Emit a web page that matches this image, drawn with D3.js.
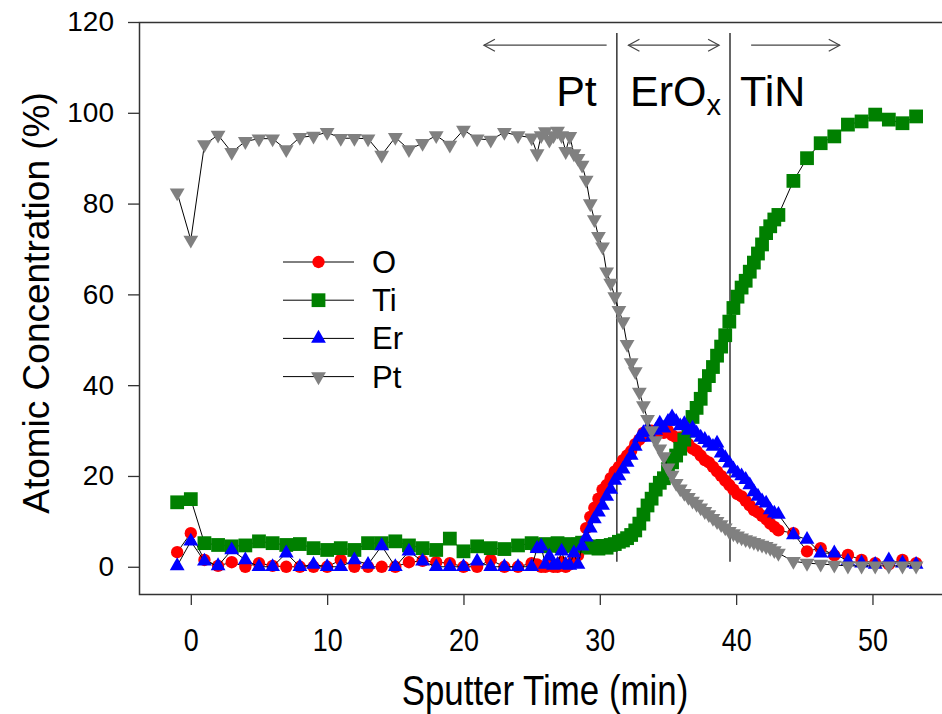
<!DOCTYPE html>
<html>
<head>
<meta charset="utf-8">
<script src="https://cdn.jsdelivr.net/npm/d3@7"></script>
<style>
  body { margin: 0; background: #fff; }
  svg { display: block; font-family: "Liberation Sans", Arial, sans-serif; }
</style>
</head>
<body>
<svg id="chart" width="942" height="714"></svg>
<script>
// sputter time (min) of every depth-profile cycle
const time = [
  -1, 0, 1, 2, 3, 4, 5, 6, 7, 8, 9, 10, 11, 12, 13, 14, 15, 16, 17, 18, 19, 20, 21, 22, 23, 24, 25,
  25.4, 25.7, 26.0, 26.3, 26.6, 26.9, 27.2, 27.5, 27.8, 28.1, 28.4, 28.7,
  29.0, 29.3, 29.6, 29.9, 30.2, 30.5, 30.8, 31.1,
  31.4, 31.7, 32.0, 32.3, 32.6, 32.9, 33.2, 33.5, 33.8, 34.1,
  34.4, 34.7, 35.0, 35.3, 35.6, 35.9, 36.2, 36.5, 36.8, 37.1,
  37.4, 37.7, 38.0, 38.3, 38.6, 38.9, 39.2, 39.5, 39.8, 40.1,
  40.4, 40.7, 41.0, 41.3, 41.6, 41.9, 42.2, 42.5, 42.8, 43.1,
  44.2, 45.2, 46.2, 47.2, 48.2, 49.2, 50.2, 51.2, 52.2, 53.2
]

// atomic concentration (%)
const oxygen = [
  3.2, 7.4, 1.5, 0.2, 1.0, 0, 0.8, 0.2, 0, 0, 0, 0, 1.5, 0, 0, 0, 0, 1.0, 1.3, 1.0, 0.8, 0, 0, 1.5, 0, 0, 0.8,
  0.5, 0, 0, 0.5, 0, 0, 1.0, 0, 0.5, 1.5, 2.5, 5.5,
  8.5, 11, 13, 15, 17, 18, 19.5, 21,
  22, 23.5, 24.5, 25.5, 27, 28, 29.5, 29, 30, 29.5,
  30.5, 29.5, 30, 29, 28.5, 28.5, 27.5, 27, 26, 25.5,
  24.5, 23.5, 23, 22, 21, 20, 19, 18, 17, 16,
  15.5, 14.5, 13.5, 12.5, 12, 11.2, 10.5, 9.5, 8.8, 8.0,
  7.4, 3.4, 4.1, 2.5, 2.6, 1.5, 0.8, 0.5, 1.5, 0.8
]
const titanium = [
  14.2, 14.9, 5.2, 4.8, 4.5, 4.7, 5.6, 5.2, 4.8, 5.0, 4.1, 3.7, 4.1, 3.7, 5.2, 5.2, 5.6, 4.7, 4.1, 3.7, 6.2, 3.4, 4.5, 4.1, 3.9, 4.7, 5.2,
  4.8, 4.5, 5.0, 4.6, 4.8, 5.2, 4.5, 4.8, 5.0, 4.6, 4.9, 5.3,
  4.5, 4.2, 4.5, 4.0, 4.6, 4.2, 4.8, 5.0,
  5.5, 5.8, 6.3, 7.0, 8.0, 9.5, 11.5, 13.5, 15, 17,
  18.5, 19.5, 21.5, 23, 24.5, 26, 28, 30, 33, 35,
  37, 40, 42, 44, 46.5, 48.5, 51, 54, 57, 59.5,
  61.5, 63, 65, 67, 69, 71, 73.5, 75, 76.5, 77.5,
  85, 90, 93.3, 94.8, 97.4, 98.1, 99.6, 98.5, 97.7, 99.2
]
const erbium = [
  0.2, 5.6, 1.2, 0.2, 3.7, 1.5, 0, 0, 3.0, 0, 0.5, 0, 0, 1.5, 0.5, 4.6, 0, 3.4, 1.2, 0, 0, 0, 1.2, 0, 0, 0, 0,
  4.0, 4.5, 0.5, 2.3, 0.3, 0.5, 3.4, 0.5, 0.3, 3.0, 0.5, 4.5,
  6.5, 8.5, 10.5, 12, 13.5, 15.5, 17, 19,
  20, 21.5, 23, 24.5, 26.5, 28.5, 29.5, 30.5, 28.5, 30,
  31.6, 30.5, 32, 33, 32, 31, 31.5, 30, 30.5, 29.4,
  28.5, 28, 27.2, 26.5, 27.2, 25, 24, 22.8, 21.5, 20.6,
  20, 19.2, 18, 16.5, 15.5, 14.5, 14, 12.5, 11.8, 11.5,
  7.0, 6.0, 3.0, 3.0, 1.2, 0.8, 0.5, 1.5, 0.8, 0.5
]
const platinum = [
  82.4, 72, 93, 95.1, 91.3, 93.7, 94.3, 94.3, 91.9, 94.6, 94.9, 95.7, 94.4, 94.4, 94.3, 90.7, 94.6, 91.9, 93.3, 95.0, 92.9, 96.2, 94.3, 94.0, 95.7, 95.0, 94.5,
  91, 95, 95.9, 94, 95, 96, 95, 91.5, 94.8, 91, 90, 88.5,
  85.2, 80, 76.5, 72.8, 70.5, 65, 62.5, 59.5,
  56.5, 54, 49, 45, 43, 38.5, 35.5, 32.5, 30, 27.8,
  26, 24.3, 21.8, 20.2, 18.4, 17.2, 16.2, 15.3, 14.5, 13.8,
  13, 12.2, 11.5, 10.7, 10, 9.3, 8.6, 7.8, 7.3, 6.8,
  6.4, 6.0, 5.7, 5.4, 5.1, 4.8, 4.5, 4.1, 3.6, 3.0,
  1.2, 0.8, 0.6, 0.4, 0.2, 0.2, 0.2, 0.2, 0.2, 0.2
]

const seriesNames = ["O", "Ti", "Er", "Pt"]
const xTicks = [0, 10, 20, 30, 40, 50]
const yTicks = [0, 20, 40, 60, 80, 100, 120]

// layer boundaries (min)
const boundaries = [31.25, 39.55]

//
// Setup
//
const svg = d3.select("#chart")
const x = d3.scaleLinear().domain([-3.8, 55.1]).range([139, 942])
const y = d3.scaleLinear().domain([-6, 120]).range([594, 22])

const colors = {O: "#ff0000", Ti: "#008000", Er: "#0000ff", Pt: "#808080"}
const symbols = {
  O: d3.symbol().type(d3.symbolCircle).size(120),
  Ti: d3.symbol().type(d3.symbolSquare).size(190),
  Er: d3.symbol().type(d3.symbolTriangle).size(95),
  Pt: d3.symbol().type(d3.symbolTriangle).size(95)
}
const rotation = {O: 0, Ti: 0, Er: 0, Pt: 180}
const valuesOf = {O: oxygen, Ti: titanium, Er: erbium, Pt: platinum}

// axes
const yAxis = svg.append("g")
  .attr("transform", "translate(139,0)")
  .call(d3.axisLeft(y).tickValues(yTicks).tickSize(11).tickPadding(14))
const xAxis = svg.append("g")
  .attr("transform", "translate(0,594)")
  .call(d3.axisBottom(x).tickValues(xTicks).tickSize(11).tickPadding(23))

;[xAxis, yAxis].forEach(function(g) {
  g.select(".domain").remove()
  g.selectAll(".tick line").attr("stroke", "#333").attr("stroke-width", 1.3)
  g.selectAll(".tick text").attr("fill", "#000")
    .attr("font-family", "Liberation Sans, Arial, sans-serif")
})
yAxis.selectAll(".tick text").attr("font-size", 28)
// x labels are drawn condensed in the original
xAxis.selectAll(".tick text").attr("font-size", 32).attr("transform", "scale(0.84,1)")

// frame (right side is cut off in the original)
svg.append("path")
  .attr("d", "M942,22.5H139.5V594.5H942")
  .attr("fill", "none")
  .attr("stroke", "#333")
  .attr("stroke-width", 1.5)

// axis titles
svg.append("text")
  .attr("transform", "translate(545,705) scale(0.83,1)")
  .attr("text-anchor", "middle")
  .attr("font-size", 42)
  .text("Sputter Time (min)")
svg.append("text")
  .attr("transform", "translate(49,303) rotate(-90)")
  .attr("text-anchor", "middle")
  .attr("font-size", 37)
  .text("Atomic Concentration (%)")

// layer boundaries
svg.selectAll(".boundary")
  .data(boundaries)
  .enter()
  .append("line")
  .attr("class", "boundary")
  .attr("x1", d => x(d)).attr("x2", d => x(d))
  .attr("y1", y(117.6)).attr("y2", y(1.1))
  .attr("stroke", "#333")
  .attr("stroke-width", 1.5)

// arrows above each layer
const arrows = [
  {from: 30.5, to: 21.5, heads: [21.5]},
  {from: 32.1, to: 38.75, heads: [32.1, 38.75]},
  {from: 41.1, to: 47.6, heads: [47.6]}
]
const arrowY = y(114.9)
arrows.forEach(function(a) {
  svg.append("line")
    .attr("x1", x(a.from)).attr("x2", x(a.to))
    .attr("y1", arrowY).attr("y2", arrowY)
    .attr("stroke", "#444").attr("stroke-width", 1.2)
  a.heads.forEach(function(h) {
    const dir = (h === Math.min(a.from, a.to)) ? 1 : -1
    const hx = x(h)
    svg.append("path")
      .attr("d", `M${hx + dir * 11},${arrowY - 6}L${hx},${arrowY}L${hx + dir * 11},${arrowY + 6}`)
      .attr("fill", "none").attr("stroke", "#444").attr("stroke-width", 1.2)
  })
})

// layer labels
const labelY = 106
svg.append("text").attr("x", x(26.8)).attr("y", labelY).attr("font-size", 43).text("Pt")
const erox = svg.append("text").attr("x", x(32.22)).attr("y", labelY).attr("font-size", 43)
erox.append("tspan").text("ErO")
erox.append("tspan").attr("font-size", 29).attr("dy", 9).text("x")
svg.append("text").attr("x", x(40.29)).attr("y", labelY).attr("font-size", 43).text("TiN")

//
// Data series
//
const line = d3.line()
  .x(d => x(d.t))
  .y(d => y(d.v))

seriesNames.forEach(function(name) {
  const pts = time.map((t, i) => ({t: t, v: valuesOf[name][i]}))
  const g = svg.append("g").attr("class", "series-" + name)
  g.append("path")
    .datum(pts)
    .attr("d", line)
    .attr("fill", "none")
    .attr("stroke", "#000")
    .attr("stroke-width", 1)
  g.selectAll(".pt")
    .data(pts)
    .enter()
    .append("path")
    .attr("class", "pt")
    .attr("d", symbols[name])
    .attr("transform", d => `translate(${x(d.t)},${y(d.v)}) rotate(${rotation[name]})`)
    .attr("fill", colors[name])
})

//
// Legend
//
const legend = svg.append("g").attr("transform", "translate(283,262)")
seriesNames.forEach(function(name, i) {
  const row = legend.append("g").attr("transform", `translate(0,${i * 38.2})`)
  row.append("line")
    .attr("x1", 0).attr("x2", 71)
    .attr("stroke", "#000").attr("stroke-width", 1)
  row.append("path")
    .attr("d", symbols[name])
    .attr("transform", `translate(35.5,0) rotate(${rotation[name]})`)
    .attr("fill", colors[name])
  row.append("text")
    .attr("x", 89).attr("y", 11)
    .attr("font-size", 31)
    .text(name)
})
</script>
</body>
</html>
